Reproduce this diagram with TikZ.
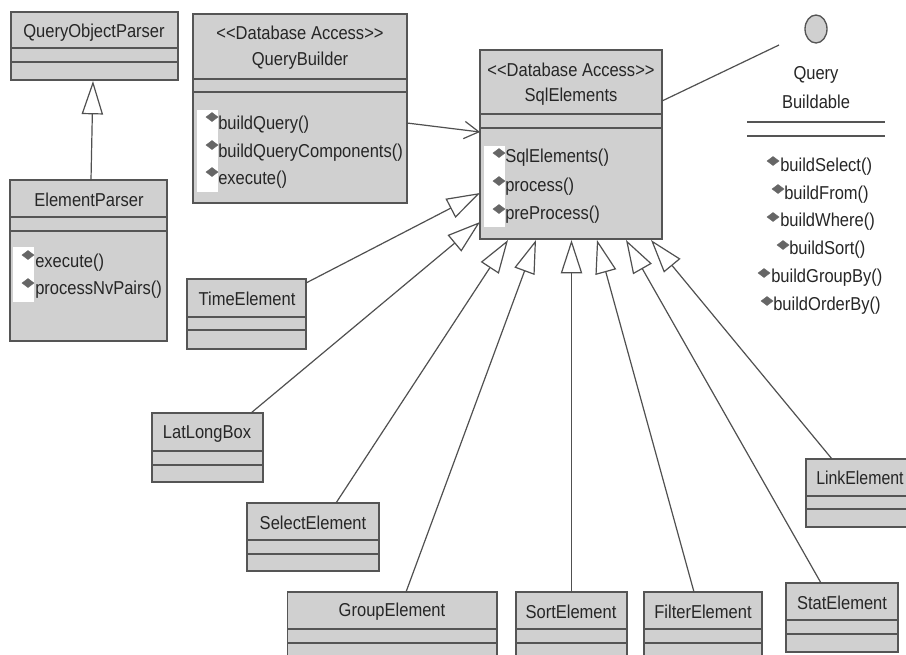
\documentclass[tikz,border=0pt]{standalone}
\usepackage{fontspec}
\setmainfont[FakeStretch=0.885]{Liberation Sans}
\newfontfamily\linkfont[FakeStretch=0.85]{Liberation Sans}
\usetikzlibrary{arrows.meta,fit,shapes.geometric}
\definecolor{boxfill}{HTML}{D0D0D0}
\definecolor{boxline}{HTML}{555555}
\definecolor{edgeline}{HTML}{505050}
\definecolor{iconfill}{HTML}{666666}
\tikzset{
  umlbox/.style={draw=boxline,fill=boxfill,line width=1.2pt,inner sep=0pt,rectangle},
  compartment/.style={draw=boxline,line width=1.2pt},
  label text/.style={font=\fontsize{14}{16}\selectfont,inner sep=0pt,text=black!85},
  method text/.style={label text,anchor=west},
  inherit/.style={draw=edgeline,line width=.9pt,-{Triangle[open,fill=white,length=25pt,width=16pt,line width=.9pt]}},
  assoc/.style={draw=edgeline,line width=.9pt},
  dependency/.style={draw=edgeline,line width=.9pt,-{Straight Barb[length=11pt,width=13pt,line width=.9pt]}},
  patch/.style={fill=white,draw=none},
  diamondicon/.style={fill=iconfill,draw=iconfill,line width=.3pt},
}
% name, x1, y1, x2, y2, line1, line2
\newcommand{\umlclass}[7]{%
  \node[umlbox,fit={(#2,#3)(#4,#5)}] (#1) {};
  \draw[compartment] (#2,#6) -- (#4,#6);
  \draw[compartment] (#2,#7) -- (#4,#7);
}
\newcommand{\icon}[2]{%
  \fill[diamondicon] (#1-6,#2) -- (#1,#2-4.5) -- (#1+6,#2) -- (#1,#2+4.5) -- cycle;
}
\begin{document}
\begin{tikzpicture}[x=.75pt,y=-.75pt]
\useasboundingbox (0,0) rectangle (906,654);
\clip (0,0) rectangle (906,654);
\fill[white] (0,0) rectangle (906,654);

% classes
\umlclass{qop}{11}{12}{178}{80}{48}{62}
\umlclass{ep}{10}{180}{167}{341}{217}{231}
\umlclass{qb}{193}{14}{407}{203}{79}{92}
\umlclass{sql}{480}{50}{662}{239}{114}{128}
\umlclass{time}{187}{279}{306}{349}{317}{330}
\umlclass{lat}{152}{413}{263}{482}{451}{465}
\umlclass{sel}{247}{503}{379}{571}{540}{554}
\umlclass{grp}{287.5}{592}{497}{662}{629}{643}
\umlclass{srt}{516}{592}{627}{662}{629}{643}
\umlclass{flt}{644}{592}{762}{662}{629}{643}
\umlclass{sta}{786}{583}{898}{652}{620}{634}
\umlclass{lnk}{806}{459}{925}{527}{496}{509}

% white icon patches
\fill[patch] (197,110) rectangle (218,192);
\fill[patch] (13,247) rectangle (34,302);
\fill[patch] (484,146) rectangle (505,227);

% class names
\node[label text] (tqop) at (94,33) {QueryObjectParser};
\node[label text] (tep) at (89,200) {ElementParser};
\node[label text] (tqb1) at (300,33) {{<}{<}Database Access{>}{>}};
\node[label text] (tqb2) at (300,61) {QueryBuilder};
\node[label text] (tsql1) at (571,70) {{<}{<}Database Access{>}{>}};
\node[label text] (tsql2) at (571,97) {SqlElements};
\node[label text] (ttime) at (247,299) {TimeElement};
\node[label text] (tlat) at (207,434) {LatLongBox};
\node[label text] (tsel) at (313,523) {SelectElement};
\node[label text] (tgrp) at (392,612) {GroupElement};
\node[label text] (tsrt) at (571,612) {SortElement};
\node[label text] (tflt) at (703,612) {FilterElement};
\node[label text] (tsta) at (842,603) {StatElement};
\node[label text,anchor=west] (tlnk) at (816,478) {\linkfont LinkElement};

% methods
\icon{212}{117}\node[method text] (m1) at (218,125) {buildQuery()};
\icon{212}{145}\node[method text] (m2) at (218,153) {buildQueryComponents()};
\icon{212}{172}\node[method text] (m3) at (218,180) {execute()};
\icon{28}{255}\node[method text] (m4) at (35,263) {execute()};
\icon{28}{283}\node[method text] (m5) at (35,290) {processNvPairs()};
\icon{499}{153}\node[method text] (m6) at (505,158) {SqlElements()};
\icon{499}{181}\node[method text] (m7) at (505,187) {process()};
\icon{499}{209}\node[method text] (m8) at (505,215) {preProcess()};

% interface
\node[draw=boxline,fill=boxfill,line width=1pt,ellipse,minimum width=16.5pt,minimum height=21pt,inner sep=0pt] (ifc) at (816,29) {};
\node[label text] (tq1) at (816,75) {Query};
\node[label text] (tq2) at (816,102) {Buildable};
\draw[compartment] (747,122) -- (885,122);
\draw[compartment] (747,136) -- (885,136);
\icon{773}{161}\node[method text] (b1) at (780,167) {buildSelect()};
\icon{778}{189}\node[method text] (b2) at (784,195) {buildFrom()};
\icon{773}{217}\node[method text] (b3) at (780,222) {buildWhere()};
\icon{783}{245}\node[method text] (b4) at (789,250) {buildSort()};
\icon{764}{273}\node[method text] (b5) at (771,278) {buildGroupBy()};
\icon{767}{301}\node[method text] (b6) at (773,306) {buildOrderBy()};

% connector ends
\coordinate (ifcEnd) at (779,45);
\coordinate (sqlR) at (662,101);
\coordinate (qbOut) at (407,123);
\coordinate (sqlIn) at (480,132);
\coordinate (qopIn) at (93,81);
\coordinate (epOut) at (91,180);
\coordinate (timeOut) at (306,283);
\coordinate (tip1) at (480,193);
\coordinate (latOut) at (251,413);
\coordinate (tip2) at (480,222);
\coordinate (selOut) at (336,503);
\coordinate (tip3) at (508,240);
\coordinate (grpOut) at (406,592);
\coordinate (tip4) at (536,240);
\coordinate (srtOut) at (571.5,592);
\coordinate (tip5) at (571.5,240);
\coordinate (fltOut) at (694,592);
\coordinate (tip6) at (597,240);
\coordinate (staOut) at (821,583);
\coordinate (tip7) at (626,240);
\coordinate (lnkOut) at (832,459);
\coordinate (tip8) at (651,240);

% connectors
\draw[assoc] (sqlR) -- (ifcEnd);
\draw[dependency] (qbOut) -- (sqlIn);
\draw[inherit] (epOut) -- (qopIn);
\draw[inherit] (timeOut) -- (tip1);
\draw[inherit] (latOut) -- (tip2);
\draw[inherit] (selOut) -- (tip3);
\draw[inherit] (grpOut) -- (tip4);
\draw[inherit] (srtOut) -- (tip5);
\draw[inherit] (fltOut) -- (tip6);
\draw[inherit] (staOut) -- (tip7);
\draw[inherit] (lnkOut) -- (tip8);
\end{tikzpicture}
\end{document}
